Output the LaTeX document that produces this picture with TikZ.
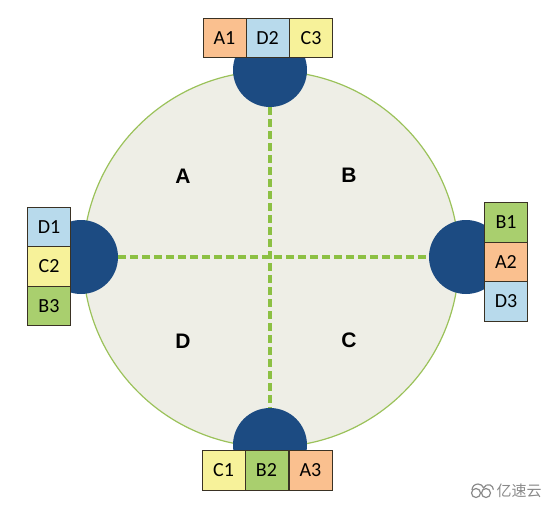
\documentclass[tikz,border=0pt]{standalone}
\usepackage{fontspec}
\setmainfont{Carlito}
\newfontfamily\labelfont{Liberation Sans}
\newfontfamily\cjkfont{Noto Sans CJK SC}
\definecolor{bgfill}{HTML}{EEEEE6}
\definecolor{ringline}{HTML}{9BC25A}
\definecolor{dashgreen}{HTML}{8CC043}
\definecolor{navy}{HTML}{1C4B82}
\definecolor{boxorange}{HTML}{FAC08F}
\definecolor{boxblue}{HTML}{B8DAEC}
\definecolor{boxyellow}{HTML}{F7F29A}
\definecolor{boxgreen}{HTML}{A9CF6E}
\definecolor{boxline}{HTML}{3A3224}
\definecolor{wmgray}{HTML}{8A8A8A}
\begin{document}
\begin{tikzpicture}[x=1pt,y=-1pt,
  keybox/.style={draw=boxline,line width=1pt,minimum width=43pt,minimum height=39.5pt,inner sep=0pt,font=\fontsize{20}{20}\selectfont,anchor=center},
  srv/.style={circle,fill=navy,minimum size=74pt,inner sep=0pt},
  sector/.style={font=\labelfont\bfseries\fontsize{21}{21}\selectfont},
  ringdash/.style={draw=dashgreen,line width=3.2pt,dash pattern=on 8pt off 4pt}]
\useasboundingbox (0,0) rectangle (556,509);
% main ring
\node[circle,draw=ringline,line width=1.2pt,fill=bgfill,minimum size=376pt,inner sep=0pt] (ring) at (271,259) {};
% servers
\node[srv] (top) at (270,70) {};
\node[srv] (bot) at (270,445) {};
\node[srv] (lft) at (81,257) {};
\node[srv] (rgt) at (466,257) {};
% dashed dividers
\draw[ringdash] (top) -- (bot);
\draw[ringdash] (lft) -- (rgt);
% top boxes
\node[keybox,fill=boxorange] (a1) at (224.5,38) {A1};
\node[keybox,fill=boxblue] (d2) at (267.5,38) {D2};
\node[keybox,fill=boxyellow] (c3) at (311,38) {C3};
% left boxes
\node[keybox,fill=boxblue] (d1) at (49,227) {D1};
\node[keybox,fill=boxyellow] (c2) at (49,266.5) {C2};
\node[keybox,fill=boxgreen] (b3) at (49,306) {B3};
% right boxes
\node[keybox,fill=boxgreen] (b1) at (506,222.5) {B1};
\node[keybox,fill=boxorange] (a2) at (506,262) {A2};
\node[keybox,fill=boxblue] (d3) at (506,301.5) {D3};
% bottom boxes
\node[keybox,fill=boxyellow] (c1) at (223.5,470.5) {C1};
\node[keybox,fill=boxgreen] (b2) at (266.5,470.5) {B2};
\node[keybox,fill=boxorange] (a3) at (310.5,470.5) {A3};
% sector labels
\node[sector] (la) at (183,176) {A};
\node[sector] (lb) at (349,175) {B};
\node[sector] (ld) at (183,341) {D};
\node[sector] (lc) at (349,340) {C};
% watermark
\draw[wmgray,line width=1.2pt] (476,493) circle (4.5pt);
\draw[wmgray,line width=1.2pt] (486,493) circle (4.5pt);
\draw[wmgray,line width=1.2pt] (472,490) arc (180:20:6pt) arc (160:0:5pt);
\node[text=wmgray,font=\cjkfont\fontsize{15}{15}\selectfont,anchor=west] (wm) at (493,491) {亿速云};
\end{tikzpicture}
\end{document}
